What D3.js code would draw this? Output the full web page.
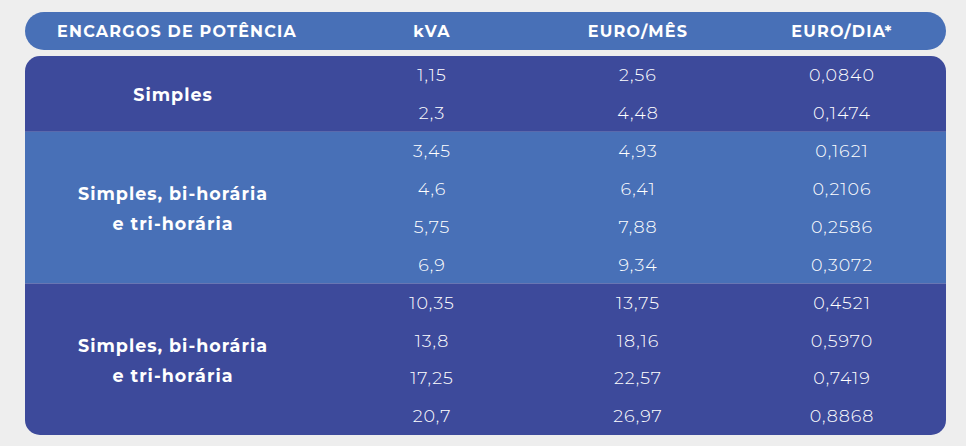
<!DOCTYPE html>
<html><head><meta charset="utf-8">
<script src="https://cdn.jsdelivr.net/npm/d3@7"></script>
<style>html,body{margin:0;padding:0;background:#eeeeee;}svg{display:block;}</style>
</head><body>
<script>
const headers = ["ENCARGOS DE POTÊNCIA", "kVA", "EURO/MÊS", "EURO/DIA*"];
const kva = ["1,15","2,3","3,45","4,6","5,75","6,9","10,35","13,8","17,25","20,7"];
const euroMes = ["2,56","4,48","4,93","6,41","7,88","9,34","13,75","18,16","22,57","26,97"];
const euroDia = ["0,0840","0,1474","0,1621","0,2106","0,2586","0,3072","0,4521","0,5970","0,7419","0,8868"];
const groups = [
  {label:["Simples"], start:0, end:2, band:"dark"},
  {label:["Simples, bi-horária","e tri-horária"], start:2, end:6, band:"light"},
  {label:["Simples, bi-horária","e tri-horária"], start:6, end:10, band:"dark"}
];

const W = 966, H = 446;
const svg = d3.select("body").append("svg").attr("width", W).attr("height", H);
svg.append("rect").attr("width", W).attr("height", H).attr("fill", "#eeeeee");

const left = 25, right = 946;
const colCenters = [177, 432, 638, 842];
const font = "Montserrat, 'Noto Sans', Lato, sans-serif";

// header pill
svg.append("rect").attr("x", left).attr("y", 12).attr("width", right-left).attr("height", 38)
  .attr("rx", 19).attr("fill", "#4870b7");
svg.selectAll("text.hdr").data(headers).join("text").attr("class","hdr")
  .attr("x", (d,i)=>colCenters[i]).attr("y", 31).attr("dy", "0.36em")
  .attr("text-anchor","middle").attr("fill","#fff")
  .attr("font-family", font).attr("font-weight", 700).attr("font-size", 16)
  .attr("letter-spacing", 1.2)
  .text(d=>d);

// body
const y = d3.scaleBand().domain(d3.range(kva.length)).range([56, 435]);
const clip = svg.append("clipPath").attr("id","bodyclip");
clip.append("rect").attr("x", left).attr("y", 56).attr("width", right-left).attr("height", 379).attr("rx", 15);
const body = svg.append("g").attr("clip-path","url(#bodyclip)");
const colors = {dark:"#3d4a9b", light:"#4870b7"};
body.selectAll("rect.band").data(groups).join("rect").attr("class","band")
  .attr("x", left).attr("width", right-left)
  .attr("y", d=>y(d.start)).attr("height", d=>y(d.end-1)+y.bandwidth()-y(d.start))
  .attr("fill", d=>colors[d.band]);

// group labels
groups.forEach(g=>{
  const cy = (y(g.start) + y(g.end-1) + y.bandwidth())/2;
  const n = g.label.length, lh = 30;
  g.label.forEach((t,k)=>{
    svg.append("text").attr("x", 173).attr("y", cy + (k-(n-1)/2)*lh + 1).attr("dy","0.36em")
      .attr("text-anchor","middle").attr("fill","#fff")
      .attr("font-family", font).attr("font-weight", 700).attr("font-size", 17.5)
      .attr("letter-spacing", 1)
      .text(t);
  });
});

// values
const cols = [kva, euroMes, euroDia];
cols.forEach((arr,ci)=>{
  svg.selectAll("text.v"+ci).data(arr).join("text").attr("class","v"+ci)
    .attr("x", colCenters[ci+1]).attr("y", (d,i)=>y(i)+y.bandwidth()/2).attr("dy","0.36em")
    .attr("text-anchor","middle").attr("fill","#fff")
    .attr("font-family", font).attr("font-weight", 300).attr("font-size", 17.5)
    .attr("letter-spacing", 1)
    .text(d=>d);
});
</script>
</body></html>
